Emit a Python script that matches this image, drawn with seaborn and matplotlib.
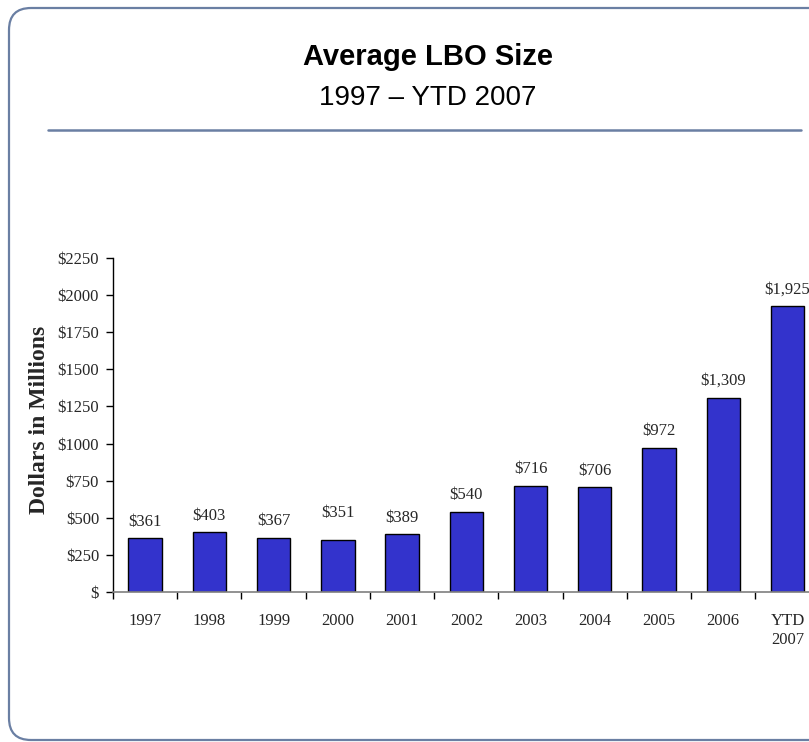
import matplotlib
matplotlib.use("Agg")
import matplotlib.pyplot as plt
import seaborn as sns
import pandas as pd
from matplotlib.patches import FancyBboxPatch
from matplotlib.lines import Line2D

# Average LBO size by year, $ millions
years = ["1997", "1998", "1999", "2000", "2001", "2002",
         "2003", "2004", "2005", "2006", "YTD\n2007"]
avg_size = [361, 403, 367, 351, 389, 540, 716, 706, 972, 1309, 1925]
value_labels = ["$361", "$403", "$367", "$351", "$389", "$540",
                "$716", "$706", "$972", "$1,309", "$1,925"]
y_ticks = [0, 250, 500, 750, 1000, 1250, 1500, 1750, 2000, 2250]
y_tick_labels = ["$", "$250", "$500", "$750", "$1000", "$1250",
                 "$1500", "$1750", "$2000", "$2250"]

df = pd.DataFrame({"year": years, "size": avg_size})

sns.set_theme(style="white")
plt.rcParams["font.family"] = ["Liberation Serif", "DejaVu Serif"]

W, H = 809, 742
fig = plt.figure(figsize=(W / 100, H / 100), dpi=100)

# Background frame layer in pixel coordinates
bg = fig.add_axes([0, 0, 1, 1], zorder=0)
bg.set_xlim(0, W)
bg.set_ylim(H, 0)
bg.axis("off")
frame_col = "#6A7FA3"
bg.add_patch(FancyBboxPatch((9, 8), 840, 732,
                            boxstyle="round,pad=0,rounding_size=22",
                            fill=False, edgecolor=frame_col, linewidth=1.6,
                            clip_on=False))
bg.add_line(Line2D([48, 801], [130, 130], color=frame_col, linewidth=1.8))
bg.text(428, 57, "Average LBO Size", ha="center", va="center",
        fontsize=21, fontweight="bold", family=["Liberation Sans"], color="black")
bg.text(428, 98, "1997 \u2013 YTD 2007", ha="center", va="center",
        fontsize=20, family=["Liberation Sans"], color="black")

# Chart axes (extends slightly past the right edge of the figure)
left_px, right_px, top_px, bot_px = 113, 819.6, 258, 592
ax = fig.add_axes([left_px / W, (H - bot_px) / H,
                   (right_px - left_px) / W, (bot_px - top_px) / H], zorder=1)
ax.patch.set_alpha(0)

sns.barplot(data=df, x="year", y="size", color="#3333CC", saturation=1,
            edgecolor="black", linewidth=1.0, width=0.52, ax=ax)

ax.set_xlim(-0.5, len(years) - 0.5)
ax.set_ylim(0, 2250)
ax.set_yticks(y_ticks)
ax.set_yticklabels(y_tick_labels, fontsize=12)
ax.set_xticks(range(len(years)))
ax.set_xticklabels(years, fontsize=12, linespacing=1.25)
ax.set_xticks([i - 0.5 for i in range(len(years) + 1)], minor=True)
ax.tick_params(axis="x", which="major", length=0, pad=15)
ax.tick_params(axis="x", which="minor", length=5, width=1, color="black",
               direction="out", bottom=True)
ax.tick_params(axis="y", which="major", length=5, width=1, color="black",
               direction="out", left=True, pad=5)
for t in ax.get_xticklabels():
    t.set_verticalalignment("top")

for s in ["top", "right"]:
    ax.spines[s].set_visible(False)
ax.spines["left"].set_color("black")
ax.spines["left"].set_linewidth(1.0)
ax.spines["bottom"].set_color("#7F7F7F")
ax.spines["bottom"].set_linewidth(1.2)

ax.set_xlabel("")
ax.set_ylabel("Dollars in Millions", fontsize=17, fontweight="bold", va="center")
ax.yaxis.set_label_coords(-0.104, 0.515)

# value labels above the bars
lift = [12, 12, 12, 19.5, 12, 12, 12, 12, 12, 12, 12]
for i, (v, lab) in enumerate(zip(avg_size, value_labels)):
    ax.annotate(lab, (i, v), xytext=(0, lift[i]), textcoords="offset points",
                ha="center", va="center", fontsize=12, annotation_clip=False)

fig.savefig("out.png", dpi=100)
